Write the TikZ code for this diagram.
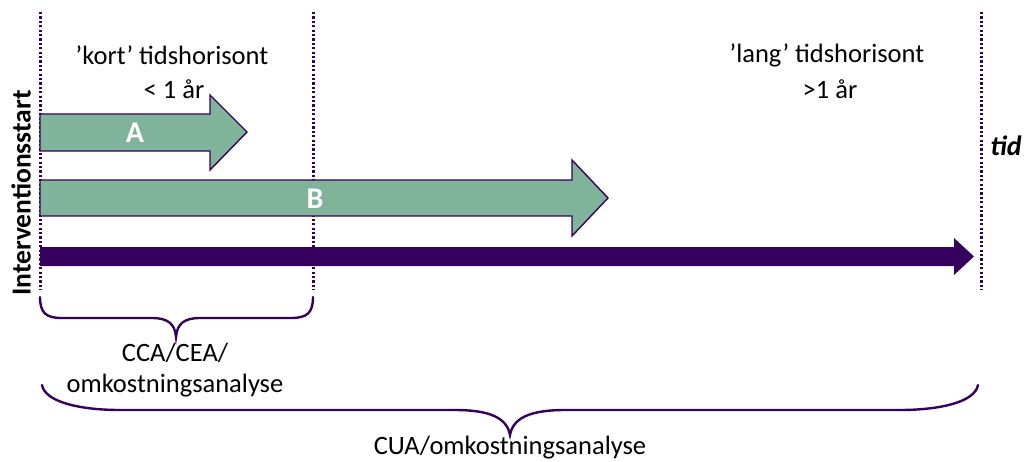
\documentclass[tikz,border=0pt]{standalone}
\usepackage{fontspec}
\setmainfont{Carlito}
\definecolor{deeppurple}{HTML}{36005E}
\definecolor{armgreen}{HTML}{80B49A}
\tikzset{
  vline/.style={draw=deeppurple, line width=3pt, dash pattern=on 2.2pt off 2.2pt},
  greenarrow/.style={fill=armgreen, draw=deeppurple, line width=1.4pt, line join=miter},
  brace/.style={draw=deeppurple, line width=2.4pt, line cap=round},
  txt/.style={font=\fontsize{26.5}{31}\selectfont, text=black, inner sep=0pt, align=center},
  armlabel/.style={font=\fontsize{30}{34}\selectfont\bfseries, text=white, inner sep=0pt}
}
\begin{document}
\begin{tikzpicture}[x=1pt,y=-1pt]
\useasboundingbox (0,0) rectangle (1029,461);
% dotted vertical lines
\coordinate (s0) at (40,12);   \coordinate (s1) at (40,290);
\coordinate (k0) at (313,12);  \coordinate (k1) at (313,290);
\coordinate (t0) at (981,12);  \coordinate (t1) at (981,290);
\draw[vline] (s0) -- (s1);
\draw[vline] (k0) -- (k1);
\draw[vline] (t0) -- (t1);
% arrow A
\draw[greenarrow] (40,114) -- (210,114) -- (210,95) -- (247,132) -- (210,170) -- (210,151) -- (40,151) -- cycle;
% arrow B
\draw[greenarrow] (40,180) -- (572,180) -- (572,160) -- (608,198) -- (572,236) -- (572,216) -- (40,216) -- cycle;
% time axis
\fill[deeppurple] (40,247) -- (954,247) -- (954,238) -- (974,256.5) -- (954,275) -- (954,266) -- (40,266) -- cycle;
% labels
\node[armlabel] (labA) at (135,133) {A};
\node[armlabel] (labB) at (315,199) {B};
\node[txt] (kort) at (172,55) {’kort’ tidshorisont};
\node[txt] (kortyr) at (174,89) {< 1 år};
\node[txt] (lang) at (827,55) {’lang’ tidshorisont};
\node[txt] (langyr) at (830,89) {>1 år};
\node[txt, font=\fontsize{28}{32}\selectfont\bfseries\itshape] (tid) at (1006,146) {tid};
\node[txt, font=\fontsize{27.5}{32}\selectfont\bfseries, rotate=90] (start) at (21,193) {Interventionsstart};
% brace 1
\draw[brace] (40,297) .. controls (40,313) and (46,318) .. (62,318) -- (152,318)
  .. controls (168,318) and (175,324) .. (176,337)
  .. controls (177,324) and (184,318) .. (200,318) -- (291,318)
  .. controls (307,318) and (313,313) .. (313,297);
\node[txt] (cca) at (175,370) {CCA/CEA/\\omkostningsanalyse};
% brace 2
\draw[brace] (42,385) .. controls (45,402) and (80,410) .. (120,410) -- (455,410)
  .. controls (490,410) and (507,418) .. (510,435)
  .. controls (513,418) and (530,410) .. (565,410) -- (900,410)
  .. controls (940,410) and (975,402) .. (978,385);
\node[txt] (cua) at (510,448) {CUA/omkostningsanalyse};
\end{tikzpicture}
\end{document}
